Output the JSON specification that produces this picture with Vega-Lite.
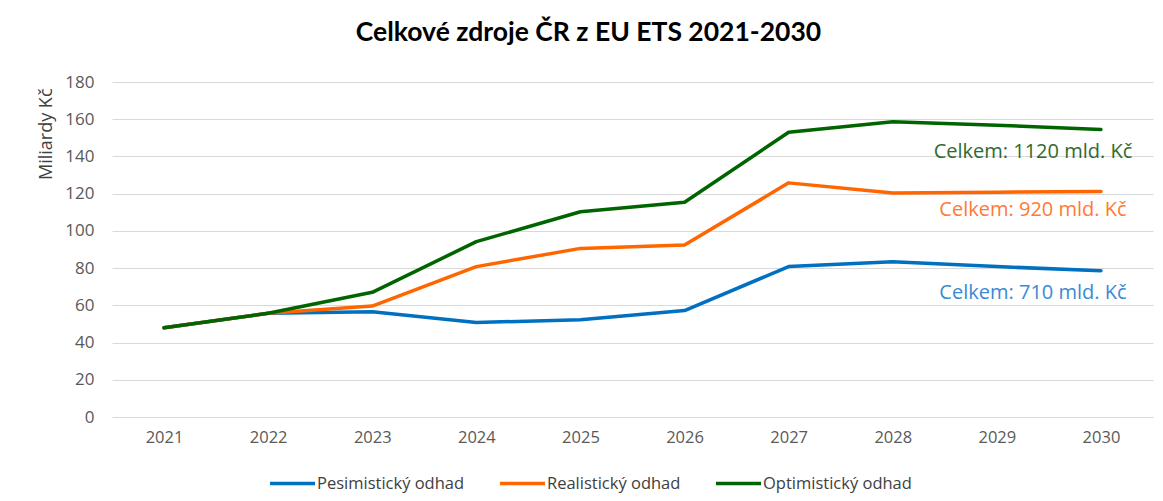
{
  "$schema": "https://vega.github.io/schema/vega-lite/v6.json",
  "width": 1041,
  "height": 335,
  "autosize": {"type": "none"},
  "padding": {"left": 112, "top": 82, "right": 10, "bottom": 84},
  "background": "white",
  "title": {
    "text": "Celkové zdroje ČR z EU ETS 2021-2030",
    "font": "Lato",
    "fontSize": 26.5,
    "fontWeight": "bold",
    "color": "#000000",
    "anchor": "middle",
    "dx": -44,
    "offset": 27
  },
  "config": {"view": {"stroke": null}, "font": "Open Sans"},
  "datasets": {
    "series": [
      {"year": "2021", "series": "Pesimistický odhad", "value": 48},
      {"year": "2022", "series": "Pesimistický odhad", "value": 55.7},
      {"year": "2023", "series": "Pesimistický odhad", "value": 56.5},
      {"year": "2024", "series": "Pesimistický odhad", "value": 50.8},
      {"year": "2025", "series": "Pesimistický odhad", "value": 52.2},
      {"year": "2026", "series": "Pesimistický odhad", "value": 57.2},
      {"year": "2027", "series": "Pesimistický odhad", "value": 80.8},
      {"year": "2028", "series": "Pesimistický odhad", "value": 83.4},
      {"year": "2029", "series": "Pesimistický odhad", "value": 80.8},
      {"year": "2030", "series": "Pesimistický odhad", "value": 78.6},
      {"year": "2021", "series": "Realistický odhad", "value": 48},
      {"year": "2022", "series": "Realistický odhad", "value": 55.7},
      {"year": "2023", "series": "Realistický odhad", "value": 59.6},
      {"year": "2024", "series": "Realistický odhad", "value": 80.8},
      {"year": "2025", "series": "Realistický odhad", "value": 90.6},
      {"year": "2026", "series": "Realistický odhad", "value": 92.4},
      {"year": "2027", "series": "Realistický odhad", "value": 125.8},
      {"year": "2028", "series": "Realistický odhad", "value": 120.3},
      {"year": "2029", "series": "Realistický odhad", "value": 120.8},
      {"year": "2030", "series": "Realistický odhad", "value": 121.2},
      {"year": "2021", "series": "Optimistický odhad", "value": 48},
      {"year": "2022", "series": "Optimistický odhad", "value": 55.7},
      {"year": "2023", "series": "Optimistický odhad", "value": 67},
      {"year": "2024", "series": "Optimistický odhad", "value": 94.2},
      {"year": "2025", "series": "Optimistický odhad", "value": 110.3},
      {"year": "2026", "series": "Optimistický odhad", "value": 115.4},
      {"year": "2027", "series": "Optimistický odhad", "value": 153},
      {"year": "2028", "series": "Optimistický odhad", "value": 158.6},
      {"year": "2029", "series": "Optimistický odhad", "value": 156.8},
      {"year": "2030", "series": "Optimistický odhad", "value": 154.5}
    ],
    "notes": [
      {"year": "2030", "series": "Optimistický odhad", "value": 142.4, "label": "Celkem: 1120 mld. Kč"},
      {"year": "2030", "series": "Realistický odhad", "value": 111.2, "label": "Celkem: 920 mld. Kč"},
      {"year": "2030", "series": "Pesimistický odhad", "value": 66.6, "label": "Celkem: 710 mld. Kč"}
    ]
  },
  "layer": [
    {
      "data": {"name": "series"},
      "mark": {"type": "line", "strokeWidth": 3.5, "strokeJoin": "round", "strokeCap": "round"},
      "encoding": {
        "x": {
          "field": "year",
          "type": "ordinal",
          "scale": {"type": "point", "padding": 0.5},
          "axis": {
            "title": null,
            "grid": false,
            "ticks": false,
            "domain": false,
            "labelAngle": 0,
            "labelFontSize": 16.5,
            "labelColor": "#595959",
            "labelPadding": 12
          }
        },
        "y": {
          "field": "value",
          "type": "quantitative",
          "scale": {"domain": [0, 180], "nice": false},
          "axis": {
            "values": [0, 20, 40, 60, 80, 100, 120, 140, 160, 180],
            "tickCount": 10,
            "labelOverlap": false,
            "grid": true,
            "gridColor": "#d9d9d9",
            "gridWidth": 1,
            "ticks": false,
            "domain": false,
            "labelFontSize": 17,
            "labelColor": "#595959",
            "labelPadding": 18,
            "title": "Miliardy Kč",
            "titleAnchor": "end",
            "titleAlign": "right",
            "titleY": 6,
            "titleFontSize": 18,
            "titleFontWeight": "normal",
            "titleColor": "#404040",
            "titlePadding": 9
          }
        },
        "color": {
          "field": "series",
          "type": "nominal",
          "scale": {
            "domain": ["Pesimistický odhad", "Realistický odhad", "Optimistický odhad"],
            "range": ["#0070C0", "#FF6600", "#006400"]
          },
          "legend": {
            "title": null,
            "orient": "none",
            "legendX": 156,
            "legendY": 377,
            "direction": "horizontal",
            "symbolType": "stroke",
            "symbolSize": 2025,
            "symbolStrokeWidth": 3.5,
            "labelFontSize": 16.5,
            "labelColor": "#404040",
            "labelOffset": 0,
            "columnPadding": 28,
            "padding": 0
          }
        }
      }
    },
    {
      "data": {"name": "notes"},
      "mark": {"type": "text", "fontSize": 20, "dx": -68, "align": "center", "baseline": "middle"},
      "encoding": {
        "x": {"field": "year", "type": "ordinal"},
        "y": {
          "field": "value",
          "type": "quantitative",
          "axis": {
            "values": [0, 20, 40, 60, 80, 100, 120, 140, 160, 180],
            "tickCount": 10,
            "labelOverlap": false,
            "grid": true,
            "gridColor": "#d9d9d9",
            "gridWidth": 1,
            "ticks": false,
            "domain": false,
            "labelFontSize": 17,
            "labelColor": "#595959",
            "labelPadding": 18,
            "title": "Miliardy Kč",
            "titleAnchor": "end",
            "titleAlign": "right",
            "titleY": 6,
            "titleFontSize": 18,
            "titleFontWeight": "normal",
            "titleColor": "#404040",
            "titlePadding": 9
          }
        },
        "text": {"field": "label"},
        "color": {
          "field": "series",
          "type": "nominal",
          "scale": {
            "domain": ["Pesimistický odhad", "Realistický odhad", "Optimistický odhad"],
            "range": ["#3A8AD4", "#FF7A33", "#2E6B2E"]
          },
          "legend": null
        }
      }
    }
  ],
  "resolve": {"scale": {"color": "independent"}}
}
